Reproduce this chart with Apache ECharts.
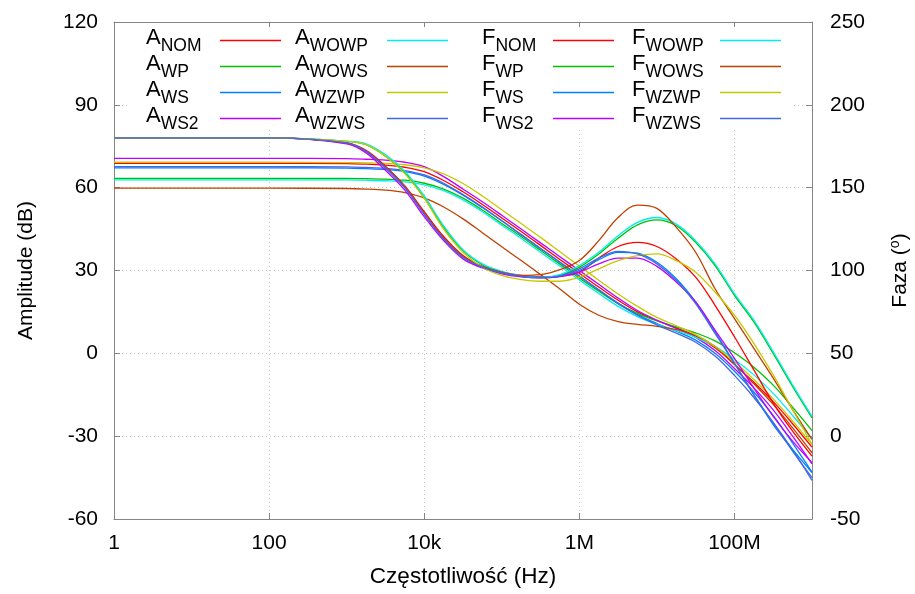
<!DOCTYPE html>
<html>
<head>
<meta charset="utf-8">
<script src="https://cdn.jsdelivr.net/npm/echarts@6/dist/echarts.min.js"></script>
<style>
  html, body { margin: 0; padding: 0; background: #ffffff; }
  #chart { width: 915px; height: 594px; }
</style>
</head>
<body>
<div id="chart"></div>
<script>
// Frequency sweep points (Hz)
const freqHz = [1, 100, 1e3, 1.78e3, 3.16e3, 5.62e3, 1e4, 1.78e4, 3.16e4, 5.62e4, 1e5,
  1.78e5, 3.16e5, 5.62e5, 1e6, 1.78e6, 3.16e6, 5.62e6, 1e7, 1.78e7, 3.16e7, 5.62e7,
  1e8, 1.78e8, 3.16e8, 5.62e8, 1e9];

// Amplitude responses (dB)
const ampNom  = [68.8, 68.8, 68.7, 68.5, 68.2, 67.4, 65.8, 62.6, 58.5, 53.9, 49.0, 44.1, 39.1, 34.0, 29.0, 24.0, 19.2, 15.0, 11.8, 9.2, 6.3, 2.0, -4.0, -10.5, -17.5, -25.5, -34.0];
const ampWp   = [63.4, 63.4, 63.4, 63.3, 63.1, 62.7, 61.6, 59.5, 56.2, 51.9, 47.0, 42.3, 37.3, 32.3, 27.3, 22.5, 18.0, 14.5, 11.8, 9.6, 7.4, 4.5, 0.2, -5.0, -11.5, -19.5, -28.0];
const ampWs   = [67.2, 67.2, 67.1, 66.9, 66.6, 65.8, 64.2, 61.2, 57.3, 52.8, 48.0, 43.0, 38.0, 33.0, 28.0, 23.0, 18.2, 14.0, 10.8, 8.0, 4.8, 0.0, -6.5, -14.0, -22.5, -32.5, -43.0];
const ampWs2  = [70.6, 70.6, 70.5, 70.3, 70.0, 69.2, 67.6, 64.0, 59.5, 54.9, 50.0, 45.0, 40.0, 35.0, 30.0, 25.0, 20.0, 15.5, 12.0, 9.0, 5.8, 1.0, -5.5, -12.5, -20.5, -30.0, -40.0];
const ampWowp = [62.8, 62.8, 62.8, 62.7, 62.5, 62.1, 61.0, 58.9, 55.6, 51.3, 46.4, 41.6, 36.6, 31.6, 26.6, 21.7, 17.0, 13.3, 10.5, 8.2, 5.8, 2.5, -2.2, -7.8, -14.5, -22.5, -31.0];
const ampWows = [59.8, 59.8, 59.7, 59.5, 59.1, 58.2, 56.3, 53.0, 48.7, 43.7, 38.6, 33.6, 28.5, 23.3, 17.8, 13.8, 11.5, 10.5, 9.8, 8.6, 6.5, 2.5, -4.0, -11.0, -18.5, -27.0, -36.0];
const ampWzwp = [69.2, 69.2, 69.1, 69.0, 68.8, 68.3, 67.2, 65.0, 61.5, 57.0, 52.0, 47.0, 42.0, 36.8, 31.6, 26.5, 21.5, 17.0, 13.0, 10.0, 6.8, 2.5, -3.0, -9.5, -16.5, -24.5, -33.0];
const ampWzws = [67.6, 67.6, 67.5, 67.3, 67.0, 66.2, 64.6, 61.6, 57.5, 53.0, 48.0, 43.0, 38.0, 33.0, 28.0, 23.0, 18.0, 13.8, 10.3, 7.3, 4.0, -1.0, -8.0, -16.0, -25.0, -35.0, -46.0];

// Phase responses (degrees)
const phaseNom  = [180, 180, 177, 172.5, 163, 151, 135.5, 120.5, 109, 102.5, 99, 97, 96.2, 96.5, 99, 107.5, 114.5, 117, 114.5, 107, 96, 79, 60, 40, 20, 3, -12];
const phaseWp   = [180, 180, 178, 176, 169, 159, 144, 126, 112, 103.5, 99, 96.5, 95.5, 97, 102, 110, 119.5, 127.5, 130.5, 127, 117, 103, 85, 69, 50, 30, 11];
const phaseWs   = [180, 180, 177, 172, 162, 150, 134, 119, 108, 102, 98.5, 96.5, 95.8, 96.5, 100, 106.5, 111, 110.5, 105, 95, 81, 63, 44, 25, 7, -8, -22];
const phaseWs2  = [180, 180, 176.5, 171, 160.5, 148.5, 132.5, 118, 107, 101.5, 98, 96.2, 95.6, 96.3, 99, 104, 107.5, 107.5, 102.5, 93, 81, 64, 47, 29, 12, -3, -16];
const phaseWowp = [180, 180, 178, 176.5, 170, 160, 145, 127, 112.5, 104, 99.5, 96.8, 95.8, 97.5, 103, 111, 121, 129, 132, 128, 118, 104, 86, 70, 51, 31, 12];
const phaseWows = [180, 180, 177, 172, 162.5, 150.5, 134.5, 119.5, 108.5, 102.5, 99, 97, 97.5, 100.5, 106, 118, 132, 139.5, 137.5, 126, 111, 89, 71, 53, 35, 16, -2];
const phaseWzwp = [180, 180, 178, 176, 169, 158.5, 143.5, 125, 111, 102, 97, 94.5, 93.5, 93.5, 96, 101, 106, 109, 110, 106, 99, 87, 73, 56, 37, 16, -5];
const phaseWzws = [180, 180, 177, 172, 162, 150, 134, 119, 108, 102, 98.5, 96.5, 95.8, 96.8, 101, 107.5, 111.5, 110, 104, 94, 80, 62, 44, 25, 8, -9, -25];

// Variant suffixes and their line colours
const variants = ['NOM', 'WP', 'WS', 'WS2', 'WOWP', 'WOWS', 'WZWP', 'WZWS'];
const variantColors = ['#ff0000', '#00c000', '#0080ff', '#c000ff', '#00eeee', '#c04000', '#c8c800', '#4169e1'];

// Axis tick labels
const xTickValues = [1, 100, 1e4, 1e6, 1e8];
const xTickLabels = ['1', '100', '10k', '1M', '100M'];

const FONT = '"Liberation Sans", Arial, Helvetica, sans-serif';
const AXIS_GRAY = '#858585';
const GRID_GRAY = '#c8c8c8';
const GRID_DASH = [1, 3];

const ampSets = [ampNom, ampWp, ampWs, ampWs2, ampWowp, ampWows, ampWzwp, ampWzws];
const phaseSets = [phaseNom, phaseWp, phaseWs, phaseWs2, phaseWowp, phaseWows, phaseWzwp, phaseWzws];

function lineSeries(name, values, color, yAxisIndex) {
  return {
    type: 'line',
    name: name,
    xAxisIndex: 0,
    yAxisIndex: yAxisIndex,
    data: freqHz.map((f, k) => [f, values[k]]),
    showSymbol: false,
    smooth: 0.35,
    silent: true,
    clip: true,
    lineStyle: { width: 1.3, color: color },
    itemStyle: { color: color },
    emphasis: { disabled: true }
  };
}

const series = [];
ampSets.forEach((vals, i) => series.push(lineSeries('A_' + variants[i], vals, variantColors[i], 0)));
phaseSets.forEach((vals, i) => series.push(lineSeries('F_' + variants[i], vals, variantColors[i], 1)));

function xLabel(v) {
  for (let i = 0; i < xTickValues.length; i++) {
    if (Math.abs(Math.log10(v) - Math.log10(xTickValues[i])) < 1e-6) return xTickLabels[i];
  }
  return '';
}

// Key: four columns of four entries, text with subscript, sample line on the right
const keyColumns = [
  { names: variants.slice(0, 4).map(v => 'A_' + v), left: 146, textWidth: 69 },
  { names: variants.slice(4).map(v => 'A_' + v), left: 295, textWidth: 87 },
  { names: variants.slice(0, 4).map(v => 'F_' + v), left: 482, textWidth: 66 },
  { names: variants.slice(4).map(v => 'F_' + v), left: 632, textWidth: 83 }
];

const legends = keyColumns.map(col => ({
  data: col.names,
  orient: 'vertical',
  left: col.left,
  top: 26,
  padding: 0,
  itemGap: -3,
  itemWidth: 61,
  itemHeight: 1.6,
  icon: 'rect',
  align: 'right',
  selectedMode: false,
  formatter: n => {
    const parts = n.split('_');
    return '{a|' + parts[0] + '}{s|' + parts[1] + '}';
  },
  textStyle: {
    width: col.textWidth,
    color: '#000',
    fontFamily: FONT,
    rich: {
      a: { fontSize: 22, lineHeight: 16, padding: [0, 0, 5, 0], align: 'left', fontFamily: FONT, color: '#000' },
      s: { fontSize: 17.5, lineHeight: 14, padding: [11, 0, 0, 0], align: 'left', fontFamily: FONT, color: '#000' }
    }
  }
}));

const chart = echarts.init(document.getElementById('chart'), null, { renderer: 'canvas' });

chart.setOption({
  animation: false,
  backgroundColor: '#ffffff',
  textStyle: { fontFamily: FONT },
  grid: { left: 114, right: 103, top: 22, bottom: 75, containLabel: false, outerBoundsMode: 'none' },
  graphic: [{
    type: 'rect',
    z: 1,
    silent: true,
    shape: { x: 127, y: 27, width: 666, height: 103 },
    style: { fill: '#ffffff' }
  }],
  legend: legends,
  xAxis: [{
    type: 'log',
    logBase: 10,
    min: 1,
    max: 1e9,
    interval: 2,
    position: 'bottom',
    name: 'Częstotliwość (Hz)',
    nameLocation: 'middle',
    nameGap: 46,
    nameMoveOverlap: false,
    nameTextStyle: { fontSize: 22.5, color: '#000', fontFamily: FONT },
    axisLine: { show: true, onZero: false, lineStyle: { color: AXIS_GRAY, width: 1 } },
    axisTick: { show: true, inside: true, length: 6, lineStyle: { color: AXIS_GRAY } },
    minorTick: { show: false },
    axisLabel: { formatter: xLabel, fontSize: 21, color: '#000', margin: 14, fontFamily: FONT, showMaxLabel: false },
    splitLine: { show: true, lineStyle: { color: GRID_GRAY, type: GRID_DASH, width: 1 } }
  }, {
    type: 'log',
    logBase: 10,
    min: 1,
    max: 1e9,
    interval: 2,
    position: 'top',
    axisLine: { show: true, onZero: false, lineStyle: { color: AXIS_GRAY, width: 1 } },
    axisTick: { show: true, inside: true, length: 6, lineStyle: { color: AXIS_GRAY } },
    axisLabel: { show: false },
    splitLine: { show: false }
  }],
  yAxis: [{
    type: 'value',
    min: -60,
    max: 120,
    interval: 30,
    position: 'left',
    name: 'Amplitude (dB)',
    nameLocation: 'middle',
    nameGap: 77,
    nameMoveOverlap: false,
    nameTextStyle: { fontSize: 21, color: '#000', fontFamily: FONT },
    axisLine: { show: true, onZero: false, lineStyle: { color: AXIS_GRAY, width: 1 } },
    axisTick: { show: true, inside: true, length: 6, lineStyle: { color: AXIS_GRAY } },
    axisLabel: { fontSize: 21, color: '#000', margin: 16, fontFamily: FONT },
    splitLine: { show: true, lineStyle: { color: GRID_GRAY, type: GRID_DASH, width: 1 } }
  }, {
    type: 'value',
    min: -50,
    max: 250,
    interval: 50,
    position: 'right',
    name: '{t|Faza (}{s|o}{t|)}',
    nameLocation: 'middle',
    nameGap: 76,
    nameMoveOverlap: false,
    nameTextStyle: {
      fontSize: 21, color: '#000', fontFamily: FONT,
      rich: {
        t: { fontSize: 21, fontFamily: FONT, color: '#000', lineHeight: 24 },
        s: { fontSize: 14, fontFamily: FONT, color: '#000', lineHeight: 14, padding: [0, 0, 10, 0] }
      }
    },
    axisLine: { show: true, onZero: false, lineStyle: { color: AXIS_GRAY, width: 1 } },
    axisTick: { show: true, inside: true, length: 6, lineStyle: { color: AXIS_GRAY } },
    axisLabel: { fontSize: 21, color: '#000', margin: 18, fontFamily: FONT },
    splitLine: { show: false }
  }],
  series: series
});
</script>
</body>
</html>
